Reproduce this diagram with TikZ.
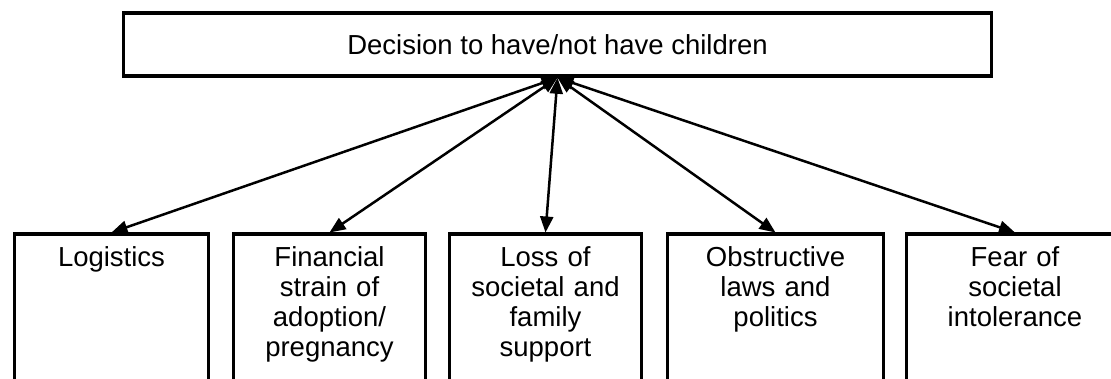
\documentclass[tikz,border=0pt]{standalone}
\usepackage{fontspec}
\setmainfont{Liberation Sans}
\usepackage{tikz}
\usetikzlibrary{arrows.meta,positioning}

\begin{document}
\begin{tikzpicture}[x=1pt, y=-1pt,
  topbox/.style={draw, line width=3.5pt, minimum width=868pt, minimum height=63pt,
                 inner sep=0pt, font=\fontsize{27.5}{30}\selectfont},
  factor/.style={draw, line width=3.5pt, anchor=north, inner sep=0pt,
                 text width=180pt, align=center, text height=32.5pt, text depth=200pt,
                 font=\fontsize{27.5}{30}\selectfont},
  link/.style={line width=2.5pt, {Triangle[length=16pt,width=13pt]}-{Triangle[length=16pt,width=13pt]}}
]
\useasboundingbox (0,0) rectangle (1111,379);
\clip (0,0) rectangle (1111,379);

\node[topbox] (decision) at (557.5,44.5) {Decision to have/not have children};

% the five factors, tops level
\node[factor, minimum width=194pt] (logistics) at (111.5,232.5) {Logistics};
\node[factor, minimum width=192pt] (finance) at (329.5,232.5) {Financial\\strain of\\adoption/\\pregnancy};
\node[factor, minimum width=192pt] (support) at (545.5,232.5) {Loss of\\societal and\\family\\support};
\node[factor, minimum width=216pt] (laws) at (775.5,232.5) {Obstructive\\laws and\\politics};
\node[factor, minimum width=217pt] (fear) at (1015,232.5) {Fear of\\societal\\intolerance};

\foreach \n in {logistics,finance,support,laws,fear}
  \draw[link] (decision.south) -- (\n.north);
\end{tikzpicture}
\end{document}
